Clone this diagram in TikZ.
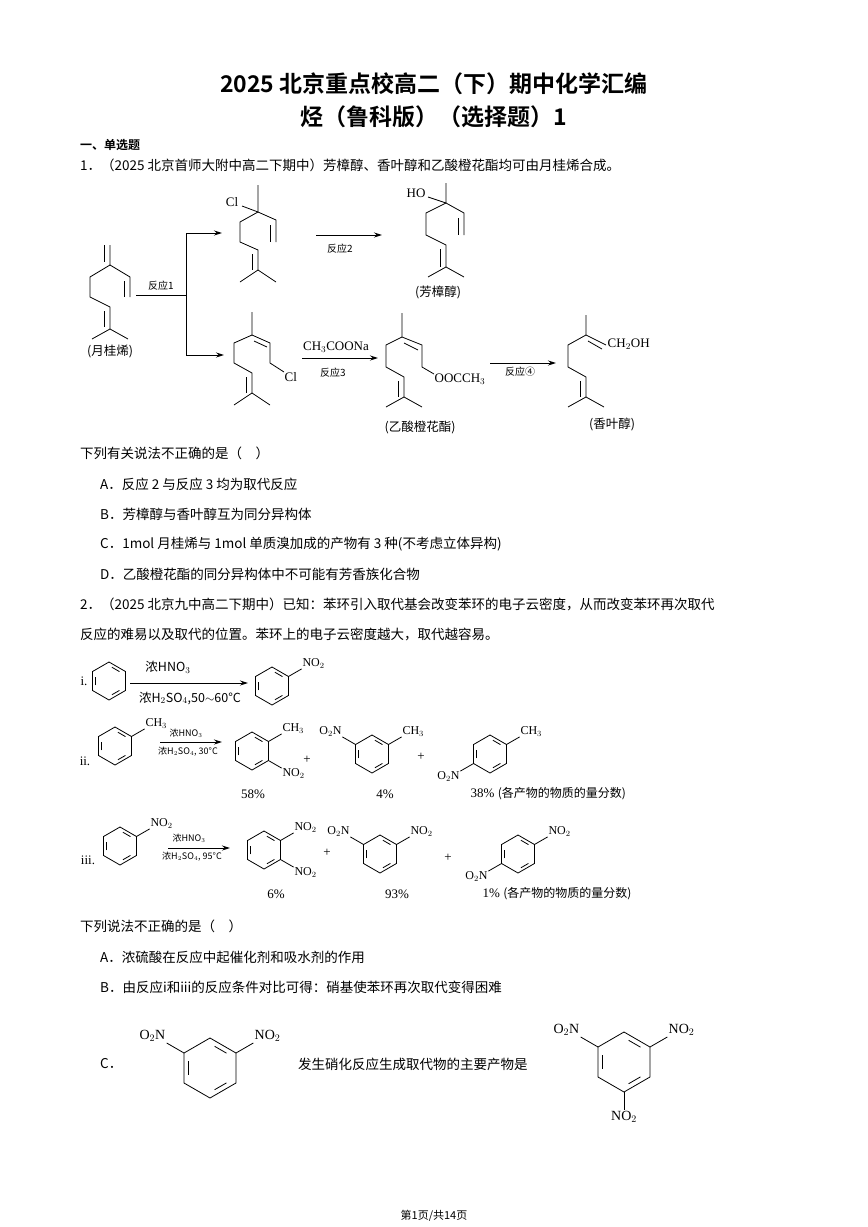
\documentclass[tikz,border=0pt]{standalone}
\usepackage{fontspec}
\setmainfont{Liberation Serif}
\newfontfamily\cjk{Noto Sans CJK SC}
\newfontfamily\cjkb{Noto Sans CJK SC Bold}
\usetikzlibrary{calc,arrows.meta}
\newcommand\benz[3]{%
 \draw[bd] (#1,#2) ++(-90:#3) -- ++(30:#3) -- ++(90:#3) -- ++(150:#3) -- ++(210:#3) -- ++(270:#3) -- cycle;
 \foreach \a in {-90,30,150} \draw[bd] ($(#1,#2)+(\a+12:0.74*#3)$) -- ($(#1,#2)+(\a+48:0.74*#3)$);}
\newcommand\subst[6]{%
 \draw[bd] ($(#1,#2)+(#4:#3)$) -- ($(#1,#2)+(#4:1.8*#3)$) node[anchor=#6,inner sep=0.5pt,font=\fontsize{12}{12}\selectfont] {#5};}
\begin{document}
\begin{tikzpicture}[x=1pt,y=-1pt,
 bd/.style={line width=0.8pt},
 arr/.style={line width=0.9pt,-{Stealth[length=8pt,width=5pt]}},
 txt/.style={anchor=west,inner sep=0pt,font=\cjk\fontsize{13.5}{14}\selectfont},
 lab/.style={inner sep=0pt,font=\cjk\fontsize{12.5}{13}\selectfont},
 sm/.style={inner sep=0pt,font=\cjk\fontsize{9}{9}\selectfont},
 ch/.style={inner sep=0.5pt,font=\fontsize{13}{13}\selectfont}]
\useasboundingbox (0,0) rectangle (868,1227);
\fill[white] (0,0) rectangle (868,1227);
% titles
\node[font=\cjkb\fontsize{23}{24}\selectfont] (t1) at (434,84) {2025 北京重点校高二（下）期中化学汇编};
\node[font=\cjkb\fontsize{23}{24}\selectfont] (t2) at (434,117) {烃（鲁科版）（选择题）1};
\node[txt,font=\cjkb\fontsize{12}{12}\selectfont] (s1) at (80,145) {一、单选题};
\node[txt] (q1) at (80,165) {1．（2025 北京首师大附中高二下期中）芳樟醇、香叶醇和乙酸橙花酯均可由月桂烯合成。};
% myrcene
\draw[bd] (110,245)--(110,265)--(130,277)--(130,297);
\draw[bd] (104,245)--(104,262); \draw[bd] (124,281)--(124,297);
\draw[bd] (110,265)--(90,277)--(90,297)--(110,307)--(110,329);
\draw[bd] (104,311)--(104,327);
\draw[bd] (92,339)--(110,329)--(128,339);
\node[lab] (m) at (110,351) {(月桂烯)};
% reaction 1 branching
\draw[bd] (136,295)--(186,295);
\node[sm,font=\cjk\fontsize{10}{10}\selectfont] (r1) at (161,286) {反应1};
\draw[bd] (186,233)--(186,355);
\draw[arr] (186,233)--(222,233);
\draw[arr] (186,355)--(224,355);
% Cl compound top
\node[ch] (cl1) at (232,202) {Cl};
\draw[bd] (242,206)--(258,212); \draw[bd] (258,185)--(258,212)--(240,222)--(240,242)--(258,250)--(258,270);
\draw[bd] (252,254)--(252,270);
\draw[bd] (240,282)--(258,270)--(276,282);
\draw[bd] (258,212)--(276,220)--(276,242); \draw[bd] (270,225)--(270,242);
% arrow 2
\draw[arr] (316,235)--(382,235);
\node[lab,font=\cjk\fontsize{10}{10}\selectfont] (r2) at (340,249) {反应2};
% linalool
\node[ch] (ho) at (416,193) {HO};
\draw[bd] (428,197)--(446,203); \draw[bd] (446,183)--(446,203)--(426,213)--(426,235)--(446,245)--(446,267);
\draw[bd] (440,249)--(440,267);
\draw[bd] (428,277)--(446,267)--(464,277);
\draw[bd] (446,203)--(464,213)--(464,235); \draw[bd] (458,218)--(458,235);
\node[lab] (lin) at (438,292) {(芳樟醇)};
% bottom Cl compound
\draw[bd] (252,312)--(252,335)--(270,343)--(270,363)--(284,372);
\draw[bd] (254,341)--(267,347);
\node[ch,anchor=west] (cl2) at (284,377) {Cl};
\draw[bd] (252,335)--(234,343)--(234,363)--(252,373)--(252,393);
\draw[bd] (246,377)--(246,393);
\draw[bd] (234,405)--(252,393)--(270,405);
% arrow 3
\draw[arr] (302,358)--(378,358);
\node[ch] (na) at (336,347) {CH$_3$COONa};
\node[lab,font=\cjk\fontsize{10}{10}\selectfont] (r3) at (333,373) {反应3};
% acetate
\draw[bd] (402,313)--(402,337)--(422,345)--(422,367)--(434,374);
\draw[bd] (404,343)--(418,350);
\node[ch,anchor=west] (oo) at (434,379) {OOCCH$_3$};
\draw[bd] (402,337)--(386,345)--(386,367)--(404,377)--(404,397);
\draw[bd] (398,381)--(398,397);
\draw[bd] (386,407)--(404,397)--(422,407);
\node[lab] (ac) at (420,427) {(乙酸橙花酯)};
% arrow 4
\draw[arr] (490,363)--(556,363);
\node[lab,font=\cjk\fontsize{10}{10}\selectfont] (r4) at (520,372) {反应④};
% geraniol
\draw[bd] (586,315)--(586,335)--(606,345);
\draw[bd] (588,341)--(602,349);
\node[ch,anchor=west] (oh) at (607,344) {CH$_2$OH};
\draw[bd] (586,335)--(568,345)--(568,367)--(586,377)--(586,397);
\draw[bd] (580,381)--(580,397);
\draw[bd] (568,407)--(586,397)--(604,407);
\node[lab] (ge) at (612,424) {(香叶醇)};
% Q1 options
\node[txt] (a1) at (80,453) {下列有关说法不正确的是（　）};
\node[txt] (a2) at (100,484) {A．反应 2 与反应 3 均为取代反应};
\node[txt] (a3) at (100,514) {B．芳樟醇与香叶醇互为同分异构体};
\node[txt] (a4) at (100,544) {C．1mol 月桂烯与 1mol 单质溴加成的产物有 3 种(不考虑立体异构)};
\node[txt] (a5) at (100,574) {D．乙酸橙花酯的同分异构体中不可能有芳香族化合物};
\node[txt] (q2) at (80,604) {2．（2025 北京九中高二下期中）已知：苯环引入取代基会改变苯环的电子云密度，从而改变苯环再次取代};
\node[txt] (q2b) at (80,634) {反应的难易以及取代的位置。苯环上的电子云密度越大，取代越容易。};
% i
\node[ch] (li) at (84,681) {i.};
\benz{109}{681}{19}
\draw[arr] (130,683)--(248,683);
\node[lab] (c1) at (168,667) {浓HNO$_3$};
\node[lab] (c2) at (190,698) {浓H$_2$SO$_4$,50$\sim$60°C};
\benz{272}{686}{19}
\subst{272}{686}{19}{-30}{NO$_2$}{south west}
% ii
\node[ch] (lii) at (85,761) {ii.};
\benz{115}{746}{19}
\subst{115}{746}{19}{-30}{CH$_3$}{south west}
\draw[arr] (160,742)--(222,742);
\node[sm] (c3) at (186,733) {浓HNO$_3$};
\node[sm] (c4) at (188,752) {浓H$_2$SO$_4$, 30°C};
\benz{252}{751}{19}
\subst{252}{751}{19}{-30}{CH$_3$}{south west}
\subst{252}{751}{19}{30}{NO$_2$}{north west}
\node[ch] (p1) at (307,760) {+};
\benz{372}{754}{19}
\subst{372}{754}{19}{-30}{CH$_3$}{south west}
\subst{372}{754}{19}{210}{O$_2$N}{south east}
\node[ch] (p2) at (421,757) {+};
\benz{490}{754}{19}
\subst{490}{754}{19}{-30}{CH$_3$}{south west}
\subst{490}{754}{19}{150}{O$_2$N}{north east}
\node[ch] (v1) at (253,794) {58\%};
\node[ch] (v2) at (385,794) {4\%};
\node[ch,anchor=west] (v3) at (470,794) {38\% {\cjk\fontsize{12}{12}\selectfont (各产物的物质的量分数)}};
% iii
\node[ch] (liii) at (88,860) {iii.};
\benz{120}{846}{19}
\subst{120}{846}{19}{-30}{NO$_2$}{south west}
\draw[arr] (168,848)--(230,848);
\node[sm] (c5) at (189,838) {浓HNO$_3$};
\node[sm] (c6) at (192,857) {浓H$_2$SO$_4$, 95°C};
\benz{264}{850}{19}
\subst{264}{850}{19}{-30}{NO$_2$}{south west}
\subst{264}{850}{19}{30}{NO$_2$}{north west}
\node[ch] (p3) at (327,853) {+};
\benz{380}{854}{19}
\subst{380}{854}{19}{-30}{NO$_2$}{south west}
\subst{380}{854}{19}{210}{O$_2$N}{south east}
\node[ch] (p4) at (448,858) {+};
\benz{518}{854}{19}
\subst{518}{854}{19}{-30}{NO$_2$}{south west}
\subst{518}{854}{19}{150}{O$_2$N}{north east}
\node[ch] (v4) at (276,894) {6\%};
\node[ch] (v5) at (397,894) {93\%};
\node[ch,anchor=west] (v6) at (482,894) {1\% {\cjk\fontsize{12}{12}\selectfont (各产物的物质的量分数)}};
% Q2 options
\node[txt] (b1) at (80,926) {下列说法不正确的是（　）};
\node[txt] (b2) at (100,957) {A．浓硫酸在反应中起催化剂和吸水剂的作用};
\node[txt] (b3) at (100,987) {B．由反应i和iii的反应条件对比可得：硝基使苯环再次取代变得困难};
\node[txt] (b4) at (100,1064) {C．};
\benz{210}{1068}{30}
\draw[bd] ($(210,1068)+(210:30)$) -- ($(210,1068)+(210:50)$) node[anchor=south east,inner sep=1pt,font=\fontsize{14}{14}\selectfont] {O$_2$N};
\draw[bd] ($(210,1068)+(-30:30)$) -- ($(210,1068)+(-30:50)$) node[anchor=south west,inner sep=1pt,font=\fontsize{14}{14}\selectfont] {NO$_2$};
\node[txt] (b5) at (298,1064) {发生硝化反应生成取代物的主要产物是};
\benz{624}{1062}{30}
\draw[bd] ($(624,1062)+(210:30)$) -- ($(624,1062)+(210:50)$) node[anchor=south east,inner sep=1pt,font=\fontsize{14}{14}\selectfont] {O$_2$N};
\draw[bd] ($(624,1062)+(-30:30)$) -- ($(624,1062)+(-30:50)$) node[anchor=south west,inner sep=1pt,font=\fontsize{14}{14}\selectfont] {NO$_2$};
\draw[bd] ($(624,1062)+(90:30)$) -- ($(624,1062)+(90:48)$) node[anchor=north,inner sep=1pt,font=\fontsize{14}{14}\selectfont] {NO$_2$};
\node[lab,font=\cjk\fontsize{11}{11}\selectfont] (ft) at (434,1216) {第1页/共14页};
\end{tikzpicture}
\end{document}
